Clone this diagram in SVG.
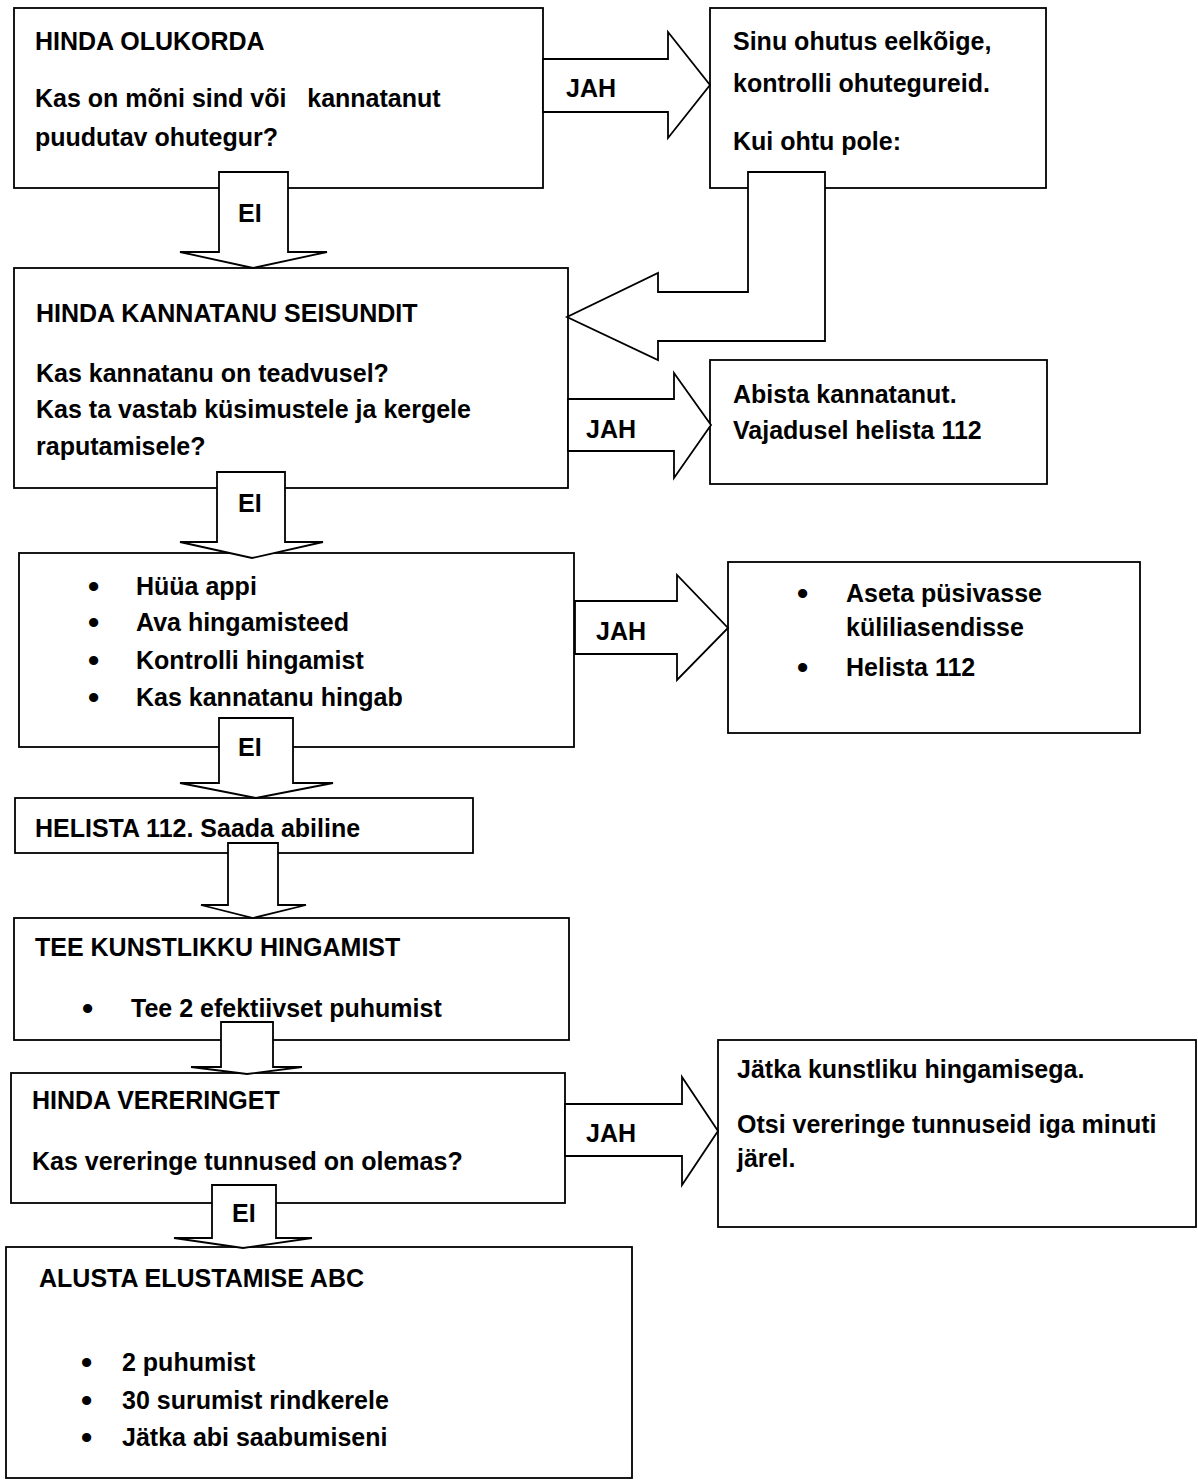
<svg xmlns="http://www.w3.org/2000/svg" width="1198" height="1481" viewBox="0 0 1198 1481">
<style>
.box{fill:#fff;stroke:#000;stroke-width:1.8}
.arr{fill:#fff;stroke:#000;stroke-width:1.8;stroke-linejoin:miter}
text{font-family:"Liberation Sans",Arial,sans-serif;font-weight:bold;font-size:25px;fill:#000}
text.b{font-size:32px}
</style>
<rect width="1198" height="1481" fill="#fff"/>
<g id="n1"><rect class="box" x="14" y="8" width="529" height="180"/>
<text x="35" y="50">HINDA OLUKORDA</text>
<text x="35" y="107" xml:space="preserve">Kas on mõni sind või   kannatanut</text>
<text x="35" y="146">puudutav ohutegur?</text></g>
<g id="n2"><rect class="box" x="710" y="8" width="336" height="180"/>
<text x="733" y="50">Sinu ohutus eelkõige,</text>
<text x="733" y="92">kontrolli ohutegureid.</text>
<text x="733" y="150">Kui ohtu pole:</text></g>
<g id="n3"><rect class="box" x="14" y="268" width="554" height="220"/>
<text x="36" y="322">HINDA KANNATANU SEISUNDIT</text>
<text x="36" y="382">Kas kannatanu on teadvusel?</text>
<text x="36" y="418">Kas ta vastab küsimustele ja kergele</text>
<text x="36" y="455">raputamisele?</text></g>
<g id="n4"><rect class="box" x="710" y="360" width="337" height="124"/>
<text x="733" y="403">Abista kannatanut.</text>
<text x="733" y="439">Vajadusel helista 112</text></g>
<g id="n5"><rect class="box" x="19" y="553" width="555" height="194"/>
<text class="b" x="88" y="597">•</text><text x="136" y="595">Hüüa appi</text>
<text class="b" x="88" y="633">•</text><text x="136" y="631">Ava hingamisteed</text>
<text class="b" x="88" y="671">•</text><text x="136" y="669">Kontrolli hingamist</text>
<text class="b" x="88" y="708">•</text><text x="136" y="706">Kas kannatanu hingab</text></g>
<g id="n6"><rect class="box" x="728" y="562" width="412" height="171"/>
<text class="b" x="797" y="604">•</text><text x="846" y="602">Aseta püsivasse</text>
<text x="846" y="636">küliliasendisse</text>
<text class="b" x="797" y="678">•</text><text x="846" y="676">Helista 112</text></g>
<g id="n7"><rect class="box" x="15" y="798" width="458" height="55"/>
<text x="35" y="837">HELISTA 112. Saada abiline</text></g>
<g id="n8"><rect class="box" x="14" y="918" width="555" height="122"/>
<text x="35" y="956">TEE KUNSTLIKKU HINGAMIST</text>
<text class="b" x="82" y="1019">•</text><text x="131" y="1017">Tee 2 efektiivset puhumist</text></g>
<g id="n9"><rect class="box" x="11" y="1073" width="554" height="130"/>
<text x="32" y="1109">HINDA VERERINGET</text>
<text x="32" y="1170">Kas vereringe tunnused on olemas?</text></g>
<g id="n10"><rect class="box" x="718" y="1040" width="478" height="187"/>
<text x="737" y="1078">Jätka kunstliku hingamisega.</text>
<text x="737" y="1133">Otsi vereringe tunnuseid iga minuti</text>
<text x="737" y="1167">järel.</text></g>
<g id="n11"><rect class="box" x="6" y="1247" width="626" height="231"/>
<text x="39" y="1287">ALUSTA ELUSTAMISE ABC</text>
<text class="b" x="81" y="1373">•</text><text x="122" y="1371">2 puhumist</text>
<text class="b" x="81" y="1411">•</text><text x="122" y="1409">30 surumist rindkerele</text>
<text class="b" x="81" y="1448">•</text><text x="122" y="1446">Jätka abi saabumiseni</text></g>
<g id="connectors">
<polygon class="arr" points="543,59 668,59 668,32 710,85 668,138 668,112 543,112"/>
<text x="566" y="97">JAH</text>
<polygon class="arr" points="748,172 825,172 825,341 658,341 658,360 567,317 658,273 658,292 748,292"/>
<polygon class="arr" points="219,172 288,172 288,252 327,252 253,268 180,252 219,252"/>
<text x="238" y="222">EI</text>
<polygon class="arr" points="568,399 674,399 674,373 711,425 674,478 674,451 568,451"/>
<text x="586" y="438">JAH</text>
<polygon class="arr" points="217,472 285,472 285,542 323,542 252,558 180,542 217,542"/>
<text x="238" y="512">EI</text>
<polygon class="arr" points="575,601 677,601 677,575 728,628 677,680 677,654 575,654"/>
<text x="596" y="640">JAH</text>
<polygon class="arr" points="219,718 293,718 293,783 333,783 256,798 180,783 219,783"/>
<text x="238" y="756">EI</text>
<polygon class="arr" points="228,843 278,843 278,905 306,905 253,918 201,905 228,905"/>
<polygon class="arr" points="221,1022 273,1022 273,1067 302,1067 247,1074 191,1067 221,1067"/>
<polygon class="arr" points="565,1104 682,1104 682,1077 718,1131 682,1185 682,1156 565,1156"/>
<text x="586" y="1142">JAH</text>
<polygon class="arr" points="212,1185 276,1185 276,1238 312,1238 243,1248 174,1238 212,1238"/>
<text x="232" y="1222">EI</text>
</g>
</svg>
